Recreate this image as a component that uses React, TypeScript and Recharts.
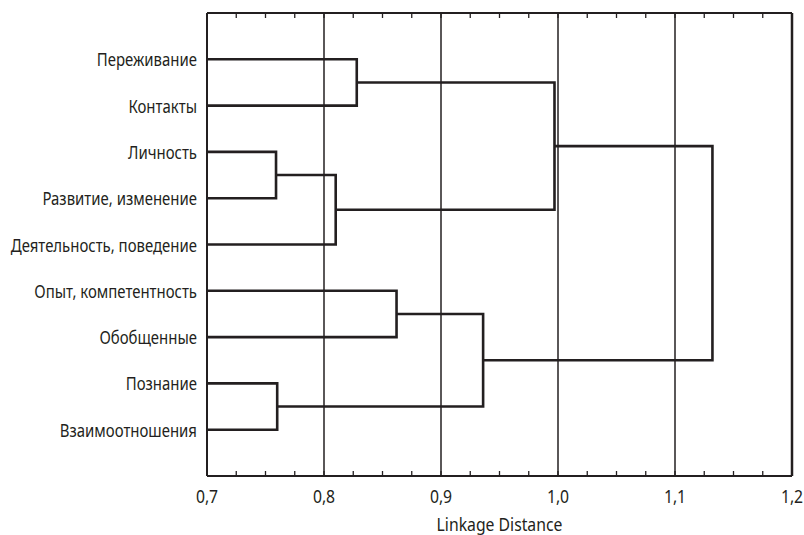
import { ComposedChart, Scatter, XAxis, YAxis, ReferenceLine } from "recharts";

const leaves = [
  "Переживание",
  "Контакты",
  "Личность",
  "Развитие, изменение",
  "Деятельность, поведение",
  "Опыт, компетентность",
  "Обобщенные",
  "Познание",
  "Взаимоотношения",
];

// merge steps: [left node, right node, linkage distance]; leaves are nodes 0..8, merges get 9, 10, ...
const merges: [number, number, number][] = [
  [0, 1, 0.828],
  [2, 3, 0.759],
  [10, 4, 0.81],
  [9, 11, 0.997],
  [5, 6, 0.862],
  [7, 8, 0.76],
  [13, 14, 0.936],
  [12, 15, 1.132],
];

const majorTicks = [0.7, 0.8, 0.9, 1.0, 1.1, 1.2];
const allTicks = [
  0.7, 0.725, 0.75, 0.775, 0.8, 0.825, 0.85, 0.875, 0.9, 0.925, 0.95, 0.975, 1.0,
  1.025, 1.05, 1.075, 1.1, 1.125, 1.15, 1.175, 1.2,
];
const gridLines = [0.8, 0.9, 1.0, 1.1];
const leafTicks = [1, 2, 3, 4, 5, 6, 7, 8, 9];

const INK = "#231f20";
const FONT = "'Noto Sans', sans-serif";
const NARROW = 0.83; // the original uses a condensed face
const MARGIN = { top: 13, right: 12, bottom: 0, left: 0 };

// node positions: x = distance, y = row
const nodes: { x: number; y: number }[] = leaves.map((_, i) => ({ x: 0.7, y: i + 1 }));
const links = merges.map(([a, b, h]) => {
  const na = nodes[a];
  const nb = nodes[b];
  nodes.push({ x: h, y: (na.y + nb.y) / 2 });
  return [
    { x: na.x, y: na.y },
    { x: h, y: na.y },
    { x: h, y: nb.y },
    { x: nb.x, y: nb.y },
  ];
});

const isMajor = (v: number) => majorTicks.some((m) => Math.abs(m - v) < 1e-9);
const fmt = (v: number) => v.toFixed(1).replace(".", ",");

const NarrowText = ({ x, y, anchor, size, children }: any) => (
  <text
    transform={`translate(${x} ${y}) scale(${NARROW} 1)`}
    x={0}
    y={0}
    textAnchor={anchor}
    fill={INK}
    fontSize={size}
    fontFamily={FONT}
  >
    {children}
  </text>
);

const BottomTick = (props: any) => {
  const { x, y, payload } = props;
  const v = payload.value;
  return (
    <g>
      <line x1={x} x2={x} y1={y} y2={y - 5} stroke={INK} strokeWidth={1.3} />
      <line x1={x} x2={x} y1={MARGIN.top} y2={MARGIN.top + 5} stroke={INK} strokeWidth={1.3} />
      {isMajor(v) && (
        <NarrowText x={x} y={y + 27} anchor="middle" size={19}>
          {fmt(v)}
        </NarrowText>
      )}
    </g>
  );
};

const LeafTick = (props: any) => {
  const { x, y, payload } = props;
  return (
    <NarrowText x={x} y={y + 7} anchor="end" size={18}>
      {leaves[payload.value - 1] ?? ""}
    </NarrowText>
  );
};

const AxisTitle = (props: any) => {
  const { viewBox } = props;
  return (
    <NarrowText x={viewBox.x + viewBox.width / 2} y={viewBox.y + 55} anchor="middle" size={19}>
      Linkage Distance
    </NarrowText>
  );
};

const NoDot = () => <g />;

export default function App() {
  return (
    <div style={{ position: "absolute", left: 0, top: 0, background: "#fff" }}>
      <ComposedChart width={804} height={535} margin={MARGIN}>
        <XAxis
          xAxisId="b"
          type="number"
          dataKey="x"
          domain={[0.7, 1.2]}
          ticks={allTicks}
          interval={0}
          tickSize={0}
          tickMargin={0}
          tick={<BottomTick />}
          height={59}
          axisLine={{ stroke: INK, strokeWidth: 2 }}
          allowDataOverflow
          label={<AxisTitle />}
        />
        <YAxis
          yAxisId="l"
          type="number"
          dataKey="y"
          domain={[0, 10]}
          reversed
          ticks={leafTicks}
          interval={0}
          width={207}
          tickSize={0}
          tickMargin={10}
          tickLine={false}
          tick={<LeafTick />}
          axisLine={{ stroke: INK, strokeWidth: 2 }}
        />
        {gridLines.map((g) => (
          <ReferenceLine key={g} x={g} xAxisId="b" yAxisId="l" stroke={INK} strokeWidth={1.5} />
        ))}
        <ReferenceLine x={1.2} xAxisId="b" yAxisId="l" stroke={INK} strokeWidth={2.5} />
        <ReferenceLine y={0} xAxisId="b" yAxisId="l" stroke={INK} strokeWidth={2} />
        {links.map((pts, i) => (
          <Scatter
            key={i}
            data={pts}
            xAxisId="b"
            yAxisId="l"
            line={{ stroke: INK, strokeWidth: 2.6 }}
            lineType="joint"
            shape={<NoDot />}
            isAnimationActive={false}
          />
        ))}
      </ComposedChart>
    </div>
  );
}
